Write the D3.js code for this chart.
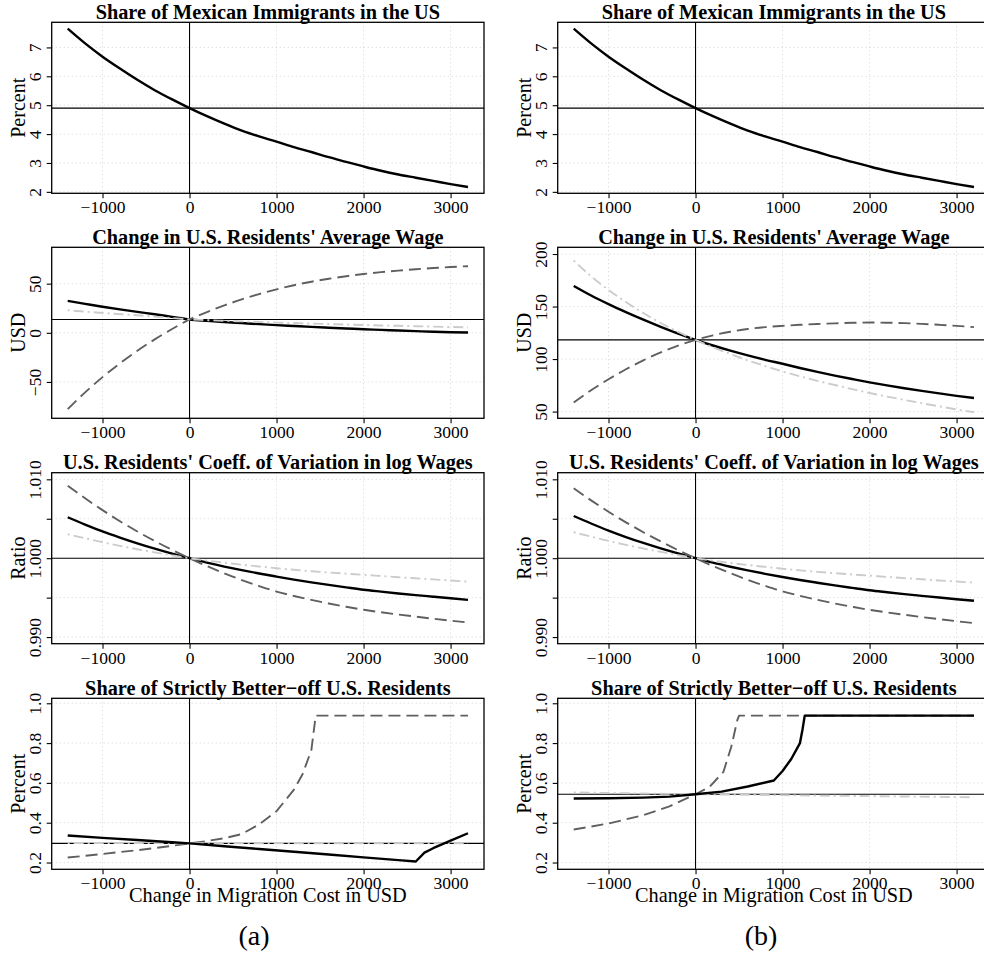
<!DOCTYPE html>
<html>
<head>
<meta charset="utf-8">
<script src="https://cdn.jsdelivr.net/npm/d3@7"></script>
<style>
  body { margin: 0; background: #fff; }
  svg { display: block; }
  svg text { font-family: "Liberation Serif", "Times New Roman", "DejaVu Serif", serif; }
</style>
</head>
<body>
<div id="wrapper"></div>
<script>
// x grid shared by panels 1-3
const xCost = [-1400, -1200, -1000, -800, -600, -400, -200, 0, 200, 400, 600, 800,
  1000, 1200, 1400, 1600, 1800, 2000, 2200, 2400, 2600, 2800, 3000, 3200]
const xTicks = [-1000, 0, 1000, 2000, 3000]

// panel 1 (same in a and b)
const shareMexican = [7.65, 7.14, 6.68, 6.27, 5.88, 5.52, 5.20, 4.90, 4.62, 4.36, 4.12, 3.92,
  3.74, 3.55, 3.38, 3.20, 3.04, 2.88, 2.73, 2.60, 2.49, 2.38, 2.27, 2.17]

// panel 2: change in average wage
const wageA_solid = [32.5, 29.5, 26.5, 23.8, 21.3, 18.9, 16.2, 13.6, 12.2, 11.0, 9.9, 8.8,
  7.8, 6.9, 6.0, 5.2, 4.4, 3.6, 3.0, 2.3, 1.7, 1.1, 0.6, 0.3]
const wageA_dashed = [-77.6, -60.6, -45.1, -31.1, -18.3, -6.7, 3.9, 13.6, 21.1, 27.9, 34.0, 39.4,
  44.2, 48.4, 52.0, 55.0, 57.6, 59.8, 61.7, 63.3, 64.7, 65.9, 66.9, 67.8]
const wageA_dotdash = [23.0, 21.5, 20.2, 19.0, 17.8, 16.5, 15.0, 13.6, 12.9, 12.2, 11.6, 11.0,
  10.4, 9.9, 9.4, 8.9, 8.4, 8.0, 7.5, 7.1, 6.7, 6.3, 5.9, 5.5]
const wageB_solid = [169.6, 160.5, 152.3, 144.7, 137.5, 130.7, 124.3, 118.3, 112.9, 108.0, 103.5, 99.3,
  95.5, 91.5, 87.8, 84.3, 81.0, 77.8, 74.9, 72.2, 69.7, 67.3, 65.0, 62.9]
const wageB_dashed = [58.6, 70.3, 80.8, 90.3, 98.8, 106.3, 112.8, 118.3, 122.6, 126.0, 128.6, 130.4,
  131.6, 132.6, 133.4, 134.0, 134.5, 134.8, 134.6, 134.2, 133.5, 132.6, 131.6, 130.4]
const wageB_dotdash = [193.8, 178.8, 165.8, 154.3, 143.8, 134.3, 125.8, 118.3, 111.3, 104.8, 98.8, 93.3,
  88.2, 83.6, 79.3, 75.3, 71.4, 67.7, 64.3, 61.1, 58.0, 55.0, 52.1, 49.4]

// panel 3: coefficient of variation ratio
const cvA_solid = [1.00519, 1.00427, 1.00340, 1.00262, 1.00189, 1.00121, 1.00058, 1.0, 0.99944, 0.99894, 0.99848, 0.99806,
  0.99767, 0.99729, 0.99694, 0.99661, 0.99630, 0.99600, 0.99576, 0.99553, 0.99532, 0.99512, 0.99492, 0.99472]
const cvA_dashed = [1.00919, 1.00759, 1.00609, 1.00469, 1.00339, 1.00218, 1.00105, 1.0, 0.99900, 0.99808, 0.99723, 0.99647,
  0.99577, 0.99521, 0.99471, 0.99426, 0.99384, 0.99346, 0.99315, 0.99286, 0.99259, 0.99233, 0.99208, 0.99185]
const cvA_dotdash = [1.00304, 1.00253, 1.00203, 1.00157, 1.00114, 1.00074, 1.00036, 1.0, 0.99970, 0.99943, 0.99918, 0.99895,
  0.99873, 0.99853, 0.99835, 0.99819, 0.99804, 0.99789, 0.99774, 0.99759, 0.99745, 0.99731, 0.99717, 0.99704]
const cvB_solid = [1.00535, 1.00440, 1.00350, 1.00268, 1.00193, 1.00124, 1.00060, 1.0, 0.99943, 0.99892, 0.99845, 0.99802,
  0.99762, 0.99724, 0.99689, 0.99655, 0.99624, 0.99594, 0.99569, 0.99545, 0.99523, 0.99501, 0.99480, 0.99460]
const cvB_dashed = [1.00886, 1.00733, 1.00589, 1.00455, 1.00329, 1.00212, 1.00102, 1.0, 0.99901, 0.99810, 0.99726, 0.99650,
  0.99580, 0.99523, 0.99472, 0.99426, 0.99384, 0.99345, 0.99313, 0.99283, 0.99254, 0.99227, 0.99201, 0.99177]
const cvB_dotdash = [1.00329, 1.00273, 1.00219, 1.00169, 1.00123, 1.00080, 1.00039, 1.0, 0.99969, 0.99940, 0.99914, 0.99890,
  0.99867, 0.99846, 0.99827, 0.99810, 0.99794, 0.99779, 0.99763, 0.99748, 0.99733, 0.99718, 0.99704, 0.99690]

// panel 4: share of strictly better-off residents (own x points, kinks)
const betterA_solidX = [-1400, -1000, -600, -200, 0, 400, 800, 1200, 1600, 2000, 2400, 2600, 2700, 2800, 3000, 3200]
const betterA_solid = [0.336, 0.324, 0.313, 0.302, 0.296, 0.282, 0.268, 0.254, 0.240, 0.226, 0.212, 0.205, 0.250, 0.272, 0.310, 0.347]
const betterA_dashedX = [-1400, -1000, -600, -200, 0, 200, 400, 600, 800, 1000, 1200, 1300, 1400, 1450, 3200]
const betterA_dashed = [0.225, 0.243, 0.262, 0.284, 0.296, 0.308, 0.322, 0.343, 0.392, 0.458, 0.566, 0.645, 0.765, 0.938, 0.938]
const betterA_dotdashX = [-1400, 0, 3200]
const betterA_dotdash = [0.298, 0.297, 0.296]
const betterB_solidX = [-1400, -1000, -600, -300, 0, 300, 600, 900, 1000, 1100, 1200, 1230, 1255, 3200]
const betterB_solid = [0.522, 0.523, 0.526, 0.531, 0.543, 0.556, 0.582, 0.612, 0.660, 0.720, 0.800, 0.870, 0.938, 0.938]
const betterB_dashedX = [-1400, -1000, -600, -300, 0, 160, 320, 410, 480, 500, 3200]
const betterB_dashed = [0.366, 0.396, 0.438, 0.482, 0.543, 0.580, 0.655, 0.780, 0.915, 0.938, 0.938]
const betterB_dotdashX = [-1400, 0, 3200]
const betterB_dotdash = [0.552, 0.543, 0.528]

// reference (status quo) levels
const baseShare = 4.9
const baseWageA = 13.6
const baseWageB = 118.3
const baseCV = 1.0
const baseBetterA = 0.296
const baseBetterB = 0.543

const titles = [
  "Share of Mexican Immigrants in the US",
  "Change in U.S. Residents' Average Wage",
  "U.S. Residents' Coeff. of Variation in log Wages",
  "Share of Strictly Better\u2212off U.S. Residents"
]

const serif = '"Liberation Serif", "Times New Roman", "DejaVu Serif", serif'
const zip = (xs, ys) => xs.map((x, i) => ({ x: x, y: ys[i] }))

const panels = [
  // column a
  { col: 0, row: 0, title: titles[0], ylab: "Percent", domain: [1.95, 7.87], yTicks: [2, 3, 4, 5, 6, 7], yLabels: [2, 3, 4, 5, 6, 7], fmt: d3.format("d"), base: baseShare, smooth: true,
    series: [{ data: zip(xCost, shareMexican), kind: "solid" }] },
  { col: 0, row: 1, title: titles[1], ylab: "USD", domain: [-87, 87], yTicks: [-50, 0, 50], yLabels: [-50, 0, 50], fmt: d3.format("d"), base: baseWageA, smooth: true,
    series: [{ data: zip(xCost, wageA_solid), kind: "solid" }, { data: zip(xCost, wageA_dashed), kind: "dashed" }, { data: zip(xCost, wageA_dotdash), kind: "dotdash" }] },
  { col: 0, row: 2, title: titles[2], ylab: "Ratio", domain: [0.98916, 1.01084], yTicks: [0.990, 0.995, 1.000, 1.005, 1.010], yLabels: [0.990, 1.000, 1.010], fmt: d3.format(".3f"), base: baseCV, smooth: true,
    series: [{ data: zip(xCost, cvA_solid), kind: "solid" }, { data: zip(xCost, cvA_dashed), kind: "dashed" }, { data: zip(xCost, cvA_dotdash), kind: "dotdash" }] },
  { col: 0, row: 3, title: titles[3], ylab: "Percent", domain: [0.166, 1.025], yTicks: [0.2, 0.4, 0.6, 0.8, 1.0], yLabels: [0.2, 0.4, 0.6, 0.8, 1.0], fmt: d3.format(".1f"), base: baseBetterA, xlab: true,
    series: [{ data: zip(betterA_dashedX, betterA_dashed), kind: "dashed" }, { data: zip(betterA_dotdashX, betterA_dotdash), kind: "dotdash" }, { data: zip(betterA_solidX, betterA_solid), kind: "solid" }] },
  // column b
  { col: 1, row: 0, title: titles[0], ylab: "Percent", domain: [1.95, 7.87], yTicks: [2, 3, 4, 5, 6, 7], yLabels: [2, 3, 4, 5, 6, 7], fmt: d3.format("d"), base: baseShare, smooth: true,
    series: [{ data: zip(xCost, shareMexican), kind: "solid" }] },
  { col: 1, row: 1, title: titles[1], ylab: "USD", domain: [43.6, 206.4], yTicks: [50, 100, 150, 200], yLabels: [50, 100, 150, 200], fmt: d3.format("d"), base: baseWageB, smooth: true,
    series: [{ data: zip(xCost, wageB_solid), kind: "solid" }, { data: zip(xCost, wageB_dashed), kind: "dashed" }, { data: zip(xCost, wageB_dotdash), kind: "dotdash" }] },
  { col: 1, row: 2, title: titles[2], ylab: "Ratio", domain: [0.98916, 1.01084], yTicks: [0.990, 0.995, 1.000, 1.005, 1.010], yLabels: [0.990, 1.000, 1.010], fmt: d3.format(".3f"), base: baseCV, smooth: true,
    series: [{ data: zip(xCost, cvB_solid), kind: "solid" }, { data: zip(xCost, cvB_dashed), kind: "dashed" }, { data: zip(xCost, cvB_dotdash), kind: "dotdash" }] },
  { col: 1, row: 3, title: titles[3], ylab: "Percent", domain: [0.166, 1.025], yTicks: [0.2, 0.4, 0.6, 0.8, 1.0], yLabels: [0.2, 0.4, 0.6, 0.8, 1.0], fmt: d3.format(".1f"), base: baseBetterB, xlab: true,
    series: [{ data: zip(betterB_dashedX, betterB_dashed), kind: "dashed" }, { data: zip(betterB_dotdashX, betterB_dotdash), kind: "dotdash" }, { data: zip(betterB_solidX, betterB_solid), kind: "solid" }] }
]

const styles = {
  solid: { stroke: "#000", width: 2.4, dash: null },
  dashed: { stroke: "#5f5f5f", width: 1.9, dash: "12,6" },
  dotdash: { stroke: "#cccccc", width: 1.9, dash: "2,4,10,4" }
}

const dimensions = {
  width: 984,
  height: 960,
  boxWidth: 432.3,
  boxHeight: 171,
  colLeft: [51.7, 557.7],
  rowTop: [22.3, 247.3, 472.7, 698.3]
}

const svg = d3.select("#wrapper")
  .append("svg")
  .attr("width", dimensions.width)
  .attr("height", dimensions.height)

svg.append("rect").attr("width", dimensions.width).attr("height", dimensions.height).attr("fill", "#fff")

const xDomain = [-1584, 3384]
const numFmt = d3.format("d")

panels.forEach(p => {
  const g = svg.append("g")
    .attr("transform", `translate(${dimensions.colLeft[p.col]}, ${dimensions.rowTop[p.row]})`)
  const w = dimensions.boxWidth
  const h = dimensions.boxHeight

  const xScale = d3.scaleLinear().domain(xDomain).range([0, w])
  const yScale = d3.scaleLinear().domain(p.domain).range([h, 0])

  // dotted grid
  g.append("g").selectAll("line")
    .data(xTicks)
    .join("line")
    .attr("x1", d => xScale(d)).attr("x2", d => xScale(d))
    .attr("y1", 0).attr("y2", h)
    .attr("stroke", "#d3d3d3").attr("stroke-width", 1).attr("stroke-dasharray", "1,3")
  g.append("g").selectAll("line")
    .data(p.yTicks)
    .join("line")
    .attr("x1", 0).attr("x2", w)
    .attr("y1", d => yScale(d)).attr("y2", d => yScale(d))
    .attr("stroke", "#d3d3d3").attr("stroke-width", 1).attr("stroke-dasharray", "1,3")

  // reference lines
  g.append("line")
    .attr("x1", xScale(0)).attr("x2", xScale(0)).attr("y1", 0).attr("y2", h)
    .attr("stroke", "#000").attr("stroke-width", 1.1)
  g.append("line")
    .attr("x1", 0).attr("x2", w).attr("y1", yScale(p.base)).attr("y2", yScale(p.base))
    .attr("stroke", "#000").attr("stroke-width", 1.1)

  // series
  const line = d3.line()
    .x(d => xScale(d.x))
    .y(d => yScale(d.y))
    .curve(p.smooth ? d3.curveMonotoneX : d3.curveLinear)
  p.series.forEach(s => {
    const st = styles[s.kind]
    g.append("path")
      .datum(s.data)
      .attr("d", line)
      .attr("fill", "none")
      .attr("stroke", st.stroke)
      .attr("stroke-width", st.width)
      .attr("stroke-dasharray", st.dash)
      .attr("stroke-linejoin", "round")
  })

  // box
  g.append("rect")
    .attr("width", w).attr("height", h)
    .attr("fill", "none").attr("stroke", "#000").attr("stroke-width", 1.3)

  // x axis
  const xAxis = g.append("g")
    .attr("transform", `translate(0, ${h})`)
    .call(d3.axisBottom(xScale).tickValues(xTicks).tickFormat(numFmt).tickSize(5))
    .attr("font-family", null)
  xAxis.select(".domain").remove()
  xAxis.selectAll("line").attr("stroke-width", 1.1)
  xAxis.selectAll("text")
    .style("font-family", serif)
    .attr("font-size", 17.5)
    .attr("fill", "#000")
    .attr("y", 20).attr("dy", 0)

  // y axis with rotated labels
  const yAxis = g.append("g")
    .call(d3.axisLeft(yScale).tickValues(p.yTicks).tickSize(5).tickFormat(d => p.yLabels.some(v => Math.abs(v - d) < 1e-9) ? p.fmt(d) : ""))
    .attr("font-family", null)
  yAxis.select(".domain").remove()
  yAxis.selectAll("line").attr("stroke-width", 1.1)
  yAxis.selectAll("text")
    .style("font-family", serif)
    .attr("font-size", 17.5)
    .attr("fill", "#000")
    .attr("transform", "rotate(-90)")
    .attr("x", 0).attr("y", -11).attr("dy", 0)
    .attr("text-anchor", "middle")

  // y axis title
  g.append("text")
    .attr("transform", `translate(-27, ${h / 2}) rotate(-90)`)
    .attr("text-anchor", "middle")
    .style("font-family", serif)
    .attr("font-size", 20)
    .text(p.ylab)

  // panel title
  g.append("text")
    .attr("x", w / 2).attr("y", -3.5)
    .attr("text-anchor", "middle")
    .style("font-family", serif)
    .attr("font-size", 20.3)
    .attr("font-weight", "bold")
    .text(p.title)

  if (p.xlab) {
    g.append("text")
      .attr("x", w / 2).attr("y", h + 33)
      .attr("text-anchor", "middle")
      .style("font-family", serif)
      .attr("font-size", 20.3)
      .text("Change in Migration Cost in USD")
  }
})

// sub-figure captions
const captions = ["(a)", "(b)"]
svg.selectAll(".caption")
  .data(captions)
  .join("text")
  .attr("class", "caption")
  .attr("x", (d, i) => [254, 761][i])
  .attr("y", 945)
  .attr("text-anchor", "middle")
  .style("font-family", serif)
  .attr("font-size", 28)
  .text(d => d)
</script>
</body>
</html>
